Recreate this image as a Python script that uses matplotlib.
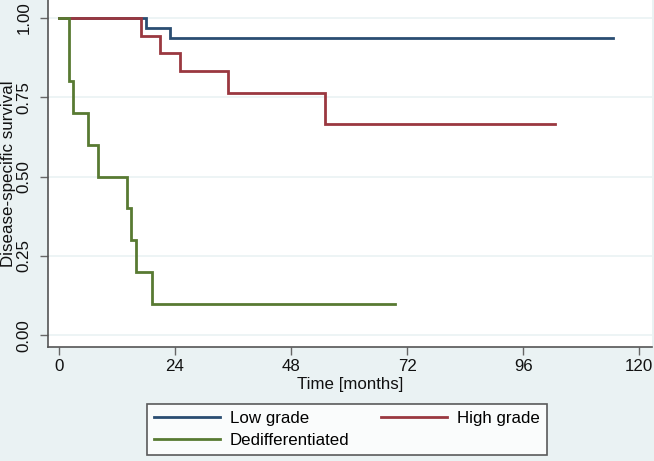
import matplotlib
matplotlib.use("Agg")
import matplotlib.pyplot as plt

# Kaplan-Meier estimates (months, survival)
low_t = [0, 17.9, 23, 114.5]
low_s = [1.0, 0.967, 0.935, 0.935]

high_t = [0, 16.9, 21, 25, 35, 55, 102.5]
high_s = [1.0, 0.944, 0.889, 0.833, 0.764, 0.667, 0.667]

ded_t = [0, 2, 2.8, 6, 8, 14, 15, 16, 19.2, 69.5]
ded_s = [1.0, 0.8, 0.7, 0.6, 0.5, 0.4, 0.3, 0.2, 0.1, 0.1]

labels = ["Low grade", "High grade", "Dedifferentiated"]
colors = ["#2a4d72", "#9a3840", "#587a32"]

xticks = [0, 24, 48, 72, 96, 120]
yticks = [0.0, 0.25, 0.5, 0.75, 1.0]

bg = "#eaf2f3"
fs = 12.2
plt.rcParams["font.family"] = ["Liberation Sans", "DejaVu Sans"]

fig = plt.figure(figsize=(6.54, 4.61), dpi=100, facecolor=bg)
ax = fig.add_axes([0.0739, 0.2479, 0.9226, 0.7521])
ax.set_facecolor("white")

lines = []
for t, s, lab, c in zip([low_t, high_t, ded_t], [low_s, high_s, ded_s], labels, colors):
    ln, = ax.step(t, s, where="post", color=c, lw=2, label=lab, solid_joinstyle="miter")
    lines.append(ln)

ax.set_xlim(-2.2, 122.6)
ax.set_ylim(-0.036, 1.056)
ax.set_xticks(xticks)
ax.set_yticks(yticks)
ax.set_yticklabels(["%.2f" % v for v in yticks], rotation=90, va="center")
ax.tick_params(axis="both", direction="out", length=6, width=1, color="#666666",
               labelsize=fs, labelcolor="#111111")
ax.tick_params(axis="y", pad=6)
ax.tick_params(axis="x", pad=3)

ax.grid(axis="y", color=bg, lw=1.2)
ax.set_axisbelow(True)
for side in ["top", "right"]:
    ax.spines[side].set_visible(False)
for side in ["left", "bottom"]:
    ax.spines[side].set_color("#555555")
    ax.spines[side].set_linewidth(1.2)

ax.set_xlabel("Time [months]", fontsize=fs, labelpad=2, color="#111111")
ax.set_ylabel("Disease-specific survival", fontsize=fs, color="#111111")
ax.yaxis.set_label_coords(-0.0535, 0.5)

# row-major order: Low, High on first row, Dedifferentiated below
leg = fig.legend([lines[0], lines[2], lines[1]], [labels[0], labels[2], labels[1]],
                 ncol=2, loc="upper left", bbox_to_anchor=(0.2243, 0.123),
                 borderaxespad=0, fontsize=fs, frameon=True, fancybox=False,
                 handlelength=3.9, handletextpad=0.6, columnspacing=1.85,
                 labelspacing=0.38, borderpad=0.42)
leg.get_frame().set_edgecolor("#333333")
leg.get_frame().set_linewidth(1.2)
for ln in leg.get_lines():
    ln.set_linewidth(2)

fig.savefig("out.png", dpi=100, facecolor=bg)
